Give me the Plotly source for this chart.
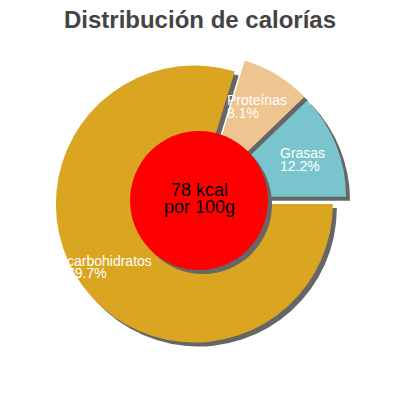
import plotly.graph_objects as go

# data
labels = ["Grasas", "Proteínas", "carbohidratos"]
percents = [12.2, 8.1, 79.7]
colors = ["#7AC5CD", "#EEC591", "#DAA520"]
center_lines = ["78 kcal", "por 100g"]
title_text = "Distribución de calorías"

# the page body keeps its 8px default margin, so the figure is drawn
# 8px in from the window corner; work in window pixels and convert
ORIGIN = 8
W, H = 400 - ORIGIN, 400 - ORIGIN
PULL = 0.055
SHADOW = "#666666"


def px(x):
    return (x - ORIGIN) / W


def py(y):
    return 1 - (y - ORIGIN) / H


# pie box in window pixels (centre 200.5, 199.5; outer radius incl. pull ~146)
cx, cy, half = 200.5, 199.5, 146.1
dom_x = [px(cx - half), px(cx + half)]
dom_y = [py(cy + half), py(cy - half)]
off = 4  # shadow offset in px

# first slice starts at 3 o'clock and runs counterclockwise
rot = 90 - percents[0] / sum(percents) * 360

fig = go.Figure()

# shadow pie behind
fig.add_trace(go.Pie(
    labels=labels, values=percents, sort=False,
    direction="counterclockwise", rotation=rot,
    pull=[PULL] * len(percents),
    marker=dict(colors=[SHADOW] * len(percents), line=dict(width=0)),
    textinfo="none", hoverinfo="skip", showlegend=False,
    domain=dict(x=[dom_x[0] + off / W, dom_x[1] + off / W],
                y=[dom_y[0] - off / H, dom_y[1] - off / H]),
))

# main pie
fig.add_trace(go.Pie(
    labels=labels, values=percents, sort=False,
    direction="counterclockwise", rotation=rot,
    pull=[PULL] * len(percents),
    marker=dict(colors=colors, line=dict(width=0)),
    textinfo="none", showlegend=False,
    domain=dict(x=dom_x, y=dom_y),
))

# red centre disc with shadow
x0, x1, y0, y1 = 130, 268, 131, 270
fig.add_shape(type="circle", xref="paper", yref="paper", layer="above",
              x0=px(x0 + off), x1=px(x1 + off), y0=py(y1 + off), y1=py(y0 + off),
              fillcolor=SHADOW, line=dict(width=0))
fig.add_shape(type="circle", xref="paper", yref="paper", layer="above",
              x0=px(x0), x1=px(x1), y0=py(y1), y1=py(y0),
              fillcolor="#FF0000", line=dict(width=0))

font = "Liberation Sans, Arial, sans-serif"

# centre text
for txt, yy in zip(center_lines, [189.5, 206.5]):
    fig.add_annotation(x=px(199.5), y=py(yy), xref="paper", yref="paper",
                       text=txt, showarrow=False, xanchor="center", yanchor="middle",
                       font=dict(family=font, size=18, color="black"))

# slice labels (left x, first line y, second line y)
label_pos = [(278, 153, 166), (225, 100, 113), (65, 260.5, 273)]
for name, pct, (lx, l1, l2) in zip(labels, percents, label_pos):
    for txt, yy in [(name, l1), (f"{pct}%", l2)]:
        fig.add_annotation(x=px(lx), y=py(yy), xref="paper", yref="paper",
                           text=txt, showarrow=False, xanchor="left", yanchor="middle",
                           font=dict(family=font, size=14, color="white"))

fig.update_layout(
    width=W, height=H,
    margin=dict(l=0, r=0, t=0, b=0),
    paper_bgcolor="white", plot_bgcolor="white",
    title=dict(text=f"<b>{title_text}</b>", x=px(200), xanchor="center",
               y=py(20), yanchor="middle",
               font=dict(family=font, size=24, color="#444444")),
)

fig.write_html("out.html")
